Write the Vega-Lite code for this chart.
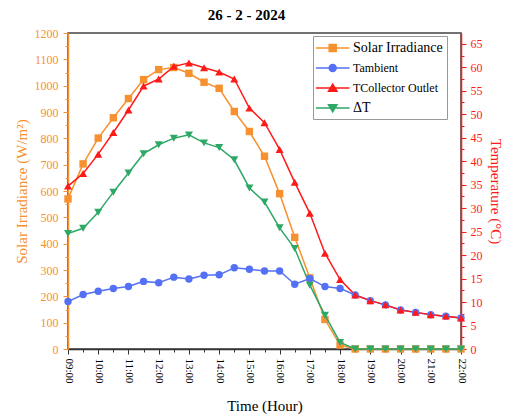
{
  "$schema": "https://vega.github.io/schema/vega-lite/v6.json",
  "width": 393,
  "height": 316,
  "autosize": {"type": "none"},
  "padding": {"left": 68, "top": 33, "right": 44, "bottom": 68},
  "title": {"text": "26 - 2 - 2024", "font": "Liberation Serif", "fontSize": 15, "fontWeight": "bold", "anchor": "middle", "dx": -18, "offset": 4, "color": "#000000"},
  "config": {"view": {"stroke": "#444444", "strokeWidth": 1.5}, "font": "Liberation Serif"},
  "data": {"values": [
    {"hour": 9, "series": "Solar Irradiance", "value": 570},
    {"hour": 9.5, "series": "Solar Irradiance", "value": 703},
    {"hour": 10, "series": "Solar Irradiance", "value": 801},
    {"hour": 10.5, "series": "Solar Irradiance", "value": 878},
    {"hour": 11, "series": "Solar Irradiance", "value": 951},
    {"hour": 11.5, "series": "Solar Irradiance", "value": 1023},
    {"hour": 12, "series": "Solar Irradiance", "value": 1061},
    {"hour": 12.5, "series": "Solar Irradiance", "value": 1069},
    {"hour": 13, "series": "Solar Irradiance", "value": 1047},
    {"hour": 13.5, "series": "Solar Irradiance", "value": 1013},
    {"hour": 14, "series": "Solar Irradiance", "value": 990},
    {"hour": 14.5, "series": "Solar Irradiance", "value": 902},
    {"hour": 15, "series": "Solar Irradiance", "value": 826},
    {"hour": 15.5, "series": "Solar Irradiance", "value": 732},
    {"hour": 16, "series": "Solar Irradiance", "value": 590},
    {"hour": 16.5, "series": "Solar Irradiance", "value": 424},
    {"hour": 17, "series": "Solar Irradiance", "value": 270},
    {"hour": 17.5, "series": "Solar Irradiance", "value": 112},
    {"hour": 18, "series": "Solar Irradiance", "value": 15},
    {"hour": 18.5, "series": "Solar Irradiance", "value": 0},
    {"hour": 19, "series": "Solar Irradiance", "value": 0},
    {"hour": 19.5, "series": "Solar Irradiance", "value": 0},
    {"hour": 20, "series": "Solar Irradiance", "value": 0},
    {"hour": 20.5, "series": "Solar Irradiance", "value": 0},
    {"hour": 21, "series": "Solar Irradiance", "value": 0},
    {"hour": 21.5, "series": "Solar Irradiance", "value": 0},
    {"hour": 22, "series": "Solar Irradiance", "value": 0},
    {"hour": 9, "series": "Tambient", "value": 10.1},
    {"hour": 9.5, "series": "Tambient", "value": 11.6},
    {"hour": 10, "series": "Tambient", "value": 12.3},
    {"hour": 10.5, "series": "Tambient", "value": 12.9},
    {"hour": 11, "series": "Tambient", "value": 13.3},
    {"hour": 11.5, "series": "Tambient", "value": 14.4},
    {"hour": 12, "series": "Tambient", "value": 14.1},
    {"hour": 12.5, "series": "Tambient", "value": 15.3},
    {"hour": 13, "series": "Tambient", "value": 14.9},
    {"hour": 13.5, "series": "Tambient", "value": 15.7},
    {"hour": 14, "series": "Tambient", "value": 15.8},
    {"hour": 14.5, "series": "Tambient", "value": 17.3},
    {"hour": 15, "series": "Tambient", "value": 17.0},
    {"hour": 15.5, "series": "Tambient", "value": 16.6},
    {"hour": 16, "series": "Tambient", "value": 16.6},
    {"hour": 16.5, "series": "Tambient", "value": 13.8},
    {"hour": 17, "series": "Tambient", "value": 15.0},
    {"hour": 17.5, "series": "Tambient", "value": 13.3},
    {"hour": 18, "series": "Tambient", "value": 12.9},
    {"hour": 18.5, "series": "Tambient", "value": 11.5},
    {"hour": 19, "series": "Tambient", "value": 10.3},
    {"hour": 19.5, "series": "Tambient", "value": 9.4},
    {"hour": 20, "series": "Tambient", "value": 8.3},
    {"hour": 20.5, "series": "Tambient", "value": 7.8},
    {"hour": 21, "series": "Tambient", "value": 7.3},
    {"hour": 21.5, "series": "Tambient", "value": 7.0},
    {"hour": 22, "series": "Tambient", "value": 6.6},
    {"hour": 9, "series": "TCollector Outlet", "value": 34.7},
    {"hour": 9.5, "series": "TCollector Outlet", "value": 37.4},
    {"hour": 10, "series": "TCollector Outlet", "value": 41.5},
    {"hour": 10.5, "series": "TCollector Outlet", "value": 46.1},
    {"hour": 11, "series": "TCollector Outlet", "value": 50.9},
    {"hour": 11.5, "series": "TCollector Outlet", "value": 56.0},
    {"hour": 12, "series": "TCollector Outlet", "value": 57.5},
    {"hour": 12.5, "series": "TCollector Outlet", "value": 60.2},
    {"hour": 13, "series": "TCollector Outlet", "value": 60.9},
    {"hour": 13.5, "series": "TCollector Outlet", "value": 59.9},
    {"hour": 14, "series": "TCollector Outlet", "value": 59.0},
    {"hour": 14.5, "series": "TCollector Outlet", "value": 57.5},
    {"hour": 15, "series": "TCollector Outlet", "value": 51.3},
    {"hour": 15.5, "series": "TCollector Outlet", "value": 48.2},
    {"hour": 16, "series": "TCollector Outlet", "value": 42.5},
    {"hour": 16.5, "series": "TCollector Outlet", "value": 35.5},
    {"hour": 17, "series": "TCollector Outlet", "value": 28.9},
    {"hour": 17.5, "series": "TCollector Outlet", "value": 20.4},
    {"hour": 18, "series": "TCollector Outlet", "value": 14.8},
    {"hour": 18.5, "series": "TCollector Outlet", "value": 11.5},
    {"hour": 19, "series": "TCollector Outlet", "value": 10.3},
    {"hour": 19.5, "series": "TCollector Outlet", "value": 9.4},
    {"hour": 20, "series": "TCollector Outlet", "value": 8.3},
    {"hour": 20.5, "series": "TCollector Outlet", "value": 7.8},
    {"hour": 21, "series": "TCollector Outlet", "value": 7.3},
    {"hour": 21.5, "series": "TCollector Outlet", "value": 7.0},
    {"hour": 22, "series": "TCollector Outlet", "value": 6.6},
    {"hour": 9, "series": "ΔT", "value": 24.6},
    {"hour": 9.5, "series": "ΔT", "value": 25.7},
    {"hour": 10, "series": "ΔT", "value": 29.1},
    {"hour": 10.5, "series": "ΔT", "value": 33.4},
    {"hour": 11, "series": "ΔT", "value": 37.5},
    {"hour": 11.5, "series": "ΔT", "value": 41.6},
    {"hour": 12, "series": "ΔT", "value": 43.5},
    {"hour": 12.5, "series": "ΔT", "value": 44.9},
    {"hour": 13, "series": "ΔT", "value": 45.6},
    {"hour": 13.5, "series": "ΔT", "value": 43.9},
    {"hour": 14, "series": "ΔT", "value": 42.9},
    {"hour": 14.5, "series": "ΔT", "value": 40.3},
    {"hour": 15, "series": "ΔT", "value": 34.3},
    {"hour": 15.5, "series": "ΔT", "value": 31.3},
    {"hour": 16, "series": "ΔT", "value": 25.8},
    {"hour": 16.5, "series": "ΔT", "value": 21.4},
    {"hour": 17, "series": "ΔT", "value": 13.6},
    {"hour": 17.5, "series": "ΔT", "value": 7.2},
    {"hour": 18, "series": "ΔT", "value": 1.4},
    {"hour": 18.5, "series": "ΔT", "value": 0},
    {"hour": 19, "series": "ΔT", "value": 0},
    {"hour": 19.5, "series": "ΔT", "value": 0},
    {"hour": 20, "series": "ΔT", "value": 0},
    {"hour": 20.5, "series": "ΔT", "value": 0},
    {"hour": 21, "series": "ΔT", "value": 0},
    {"hour": 21.5, "series": "ΔT", "value": 0},
    {"hour": 22, "series": "ΔT", "value": 0}
  ]},
  "encoding": {
    "x": {
      "field": "hour", "type": "quantitative",
      "scale": {"domain": [9, 22], "nice": false, "zero": false},
      "axis": {
        "values": [9, 9.5, 10, 10.5, 11, 11.5, 12, 12.5, 13, 13.5, 14, 14.5, 15, 15.5, 16, 16.5, 17, 17.5, 18, 18.5, 19, 19.5, 20, 20.5, 21, 21.5, 22],
        "labelExpr": "datum.value % 1 === 0 ? ((datum.value < 10 ? '0' : '') + datum.value + ':00') : ''",
        "labelAngle": 90, "labelAlign": "left", "labelBaseline": "middle",
        "tickSize": {"condition": {"test": "datum.value % 1 === 0", "value": 5}, "value": 3},
        "domainColor": "#333333", "tickColor": "#333333", "labelColor": "#000000",
        "labelFont": "Liberation Serif", "labelFontSize": 11, "labelPadding": 4,
        "labelFlush": false, "labelOverlap": false, "labelBound": false,
        "domainWidth": 1.5, "tickWidth": 1, "grid": false,
        "title": "Time (Hour)", "titleFont": "Liberation Serif", "titleFontSize": 15,
        "titleFontWeight": "normal", "titleColor": "#000000", "titlePadding": 15
      }
    },
    "color": {
      "field": "series", "type": "nominal",
      "scale": {"domain": ["Solar Irradiance", "Tambient", "TCollector Outlet", "ΔT"], "range": ["#F7902F", "#5470F5", "#FF1A1A", "#2EA866"]},
      "legend": {
        "orient": "none", "legendX": 245, "legendY": 3, "title": null,
        "padding": 4, "strokeColor": "#999999", "fillColor": "#FFFFFF",
        "symbolSize": 196, "symbolStrokeWidth": 1.5,
        "labelFont": "Liberation Serif", "labelFontSize": 14, "labelColor": "#000000",
        "labelOffset": 20, "rowPadding": 5, "labelLimit": 200,
        "encode": {
          "symbols": {
            "update": {
              "shape": {"signal": "datum.value === 'Solar Irradiance' ? 'M-1.3,0H3.5M0.6,-0.5H1.6V0.5H0.6Z' : datum.value === 'Tambient' ? 'M-1.3,0H3.5M1.6,0A0.5,0.5 0 1,1 0.6,0A0.5,0.5 0 1,1 1.6,0Z' : datum.value === 'TCollector Outlet' ? 'M-1.3,0H3.5M1.1,-0.55L1.7,0.45H0.5Z' : 'M-1.3,0H3.5M1.1,0.55L1.7,-0.45H0.5Z'"},
              "fill": {"signal": "scale('color', datum.value)"},
              "stroke": {"signal": "scale('color', datum.value)"},
              "strokeWidth": {"value": 1.5},
              "opacity": {"value": 1}
            }
          },
          "labels": {
            "update": {
              "font": {"value": "Liberation Serif"},
              "fontSize": {"signal": "datum.value === 'Tambient' || datum.value === 'TCollector Outlet' ? 12 : 14"}
            }
          }
        }
      }
    }
  },
  "layer": [
    {
      "transform": [{"filter": "datum.series === 'Solar Irradiance'"}],
      "encoding": {
        "y": {
          "field": "value", "type": "quantitative",
          "scale": {"domain": [0, 1200], "nice": false},
          "axis": {
            "orient": "left",
            "values": [0, 50, 100, 150, 200, 250, 300, 350, 400, 450, 500, 550, 600, 650, 700, 750, 800, 850, 900, 950, 1000, 1050, 1100, 1150, 1200],
            "format": "d",
            "labelExpr": "datum.value % 100 === 0 ? datum.label : ''",
            "tickSize": {"condition": {"test": "datum.value % 100 === 0", "value": 5}, "value": 3},
            "domainColor": "#F7902F", "tickColor": "#F7902F", "labelColor": "#F7902F", "titleColor": "#F7902F",
            "labelFont": "Liberation Serif", "labelFontSize": 12, "labelPadding": 5,
            "labelFlush": false, "labelOverlap": false, "domainWidth": 1.5, "grid": false,
            "title": "Solar Irradiance (W/m²)", "titleFont": "Liberation Serif", "titleFontSize": 15,
            "titleFontWeight": "normal", "titlePadding": 5
          }
        }
      },
      "layer": [
        {"mark": {"type": "line", "strokeWidth": 1.5}},
        {"mark": {"type": "point", "filled": true, "shape": "square", "size": 55, "opacity": 1}}
      ]
    },
    {
      "transform": [{"filter": "datum.series !== 'Solar Irradiance'"}],
      "encoding": {
        "y": {
          "field": "value", "type": "quantitative",
          "scale": {"domain": [0, 67.3], "nice": false},
          "axis": {
            "orient": "right",
            "values": [0, 2.5, 5, 7.5, 10, 12.5, 15, 17.5, 20, 22.5, 25, 27.5, 30, 32.5, 35, 37.5, 40, 42.5, 45, 47.5, 50, 52.5, 55, 57.5, 60, 62.5, 65],
            "labelExpr": "datum.value % 5 === 0 ? datum.label : ''",
            "tickSize": {"condition": {"test": "datum.value % 5 === 0", "value": 5}, "value": 3},
            "domainColor": "#FF1A1A", "tickColor": "#FF1A1A", "labelColor": "#FF1A1A", "titleColor": "#FF1A1A",
            "labelFont": "Liberation Serif", "labelFontSize": 12, "labelPadding": 4,
            "labelFlush": false, "labelOverlap": false, "domainWidth": 1.5, "grid": false,
            "title": "Temperature (°C)", "titleFont": "Liberation Serif", "titleFontSize": 15,
            "titleFontWeight": "normal", "titlePadding": 5
          }
        }
      },
      "layer": [
        {"mark": {"type": "line", "strokeWidth": 1.5}},
        {"transform": [{"filter": "datum.series === 'Tambient'"}],
         "mark": {"type": "point", "filled": true, "shape": "circle", "size": 55, "opacity": 1}},
        {"transform": [{"filter": "datum.series === 'TCollector Outlet'"}],
         "mark": {"type": "point", "filled": true, "shape": "triangle-up", "size": 65, "opacity": 1}},
        {"transform": [{"filter": "datum.series === 'ΔT'"}],
         "mark": {"type": "point", "filled": true, "shape": "triangle-down", "size": 65, "opacity": 1}}
      ]
    }
  ],
  "resolve": {"scale": {"y": "independent"}}
}
